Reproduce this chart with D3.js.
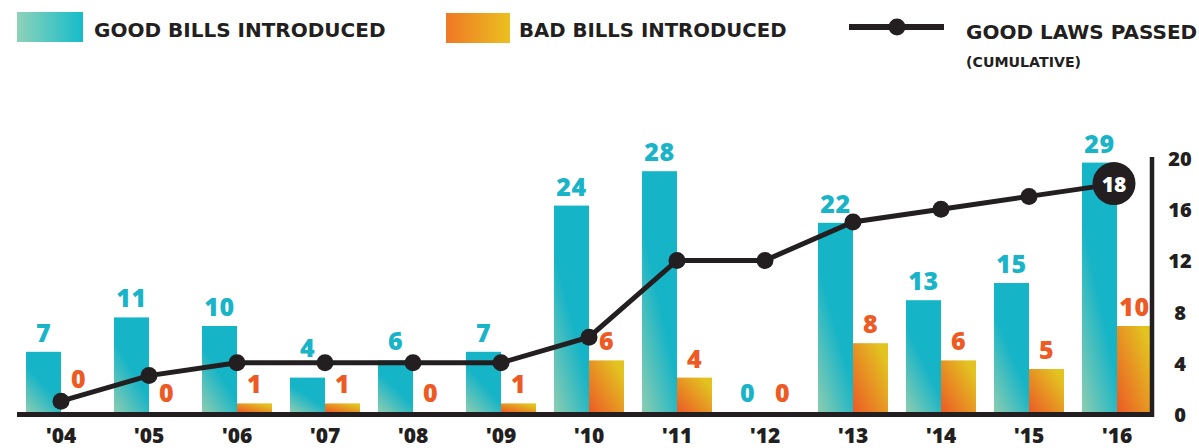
<!DOCTYPE html>
<html lang="en">
<head>
  <meta charset="UTF-8">
  <title>Bills chart</title>
  <script src="https://d3js.org/d3.v7.min.js"></script>
  <style>
    body { margin: 0; background: #fff; }
    text { font-family: "Open Sans", Roboto, sans-serif; font-weight: 800; }
    .legend text { font-family: "DejaVu Sans", sans-serif; font-weight: bold; }
  </style>
</head>
<body>
<div class="canvas"></div>
<script>
  const years = ["'04", "'05", "'06", "'07", "'08", "'09", "'10", "'11", "'12", "'13", "'14", "'15", "'16"]
  const goodBills = [7, 11, 10, 4, 6, 7, 24, 28, 0, 22, 13, 15, 29]
  const badBills = [0, 0, 1, 1, 0, 1, 6, 4, 0, 8, 6, 5, 10]
  const lawsPassed = [1, 3, 4, 4, 4, 4, 6, 12, 12, 15, 16, 17, 18]
  const axisTicks = [0, 4, 8, 12, 16, 20]

  const W = 1199, H = 448
  const base = 412

  const svg = d3.select('.canvas')
    .append('svg')
    .attr('width', W)
    .attr('height', H)

  // gradients
  const defs = svg.append('defs')
  function grad(id, c0, c1, x1, y1, x2, y2) {
    const g = defs.append('linearGradient').attr('id', id)
      .attr('x1', x1).attr('y1', y1).attr('x2', x2).attr('y2', y2)
    g.append('stop').attr('offset', '0%').attr('stop-color', c0)
    g.append('stop').attr('offset', '100%').attr('stop-color', c1)
  }
  grad('goodBar', '#8dcdb0', '#16b4c7', 0, 1, 0.35, 0.45)
  grad('badBar', '#ec5a26', '#e2c320', 0, 1, 0.9, 0.2)
  grad('goodKey', '#8ed2b8', '#15bccb', 0, 0, 1, 0)
  grad('badKey', '#f07826', '#ebc01f', 0, 0, 1, 0)

  const x0 = d3.scaleBand().domain(years).range([17, 1161]).padding(0)
  const x1 = d3.scaleBand().domain(['good', 'bad']).range([9, 79]).padding(0)
  const yBar = d3.scaleLinear().domain([0, 30]).range([base, 154])
  const yLine = d3.scaleLinear().domain([0, 20]).range([base + 2, 158])

  const rows = years.map((yr, i) => ({ yr, good: goodBills[i], bad: badBills[i], laws: lawsPassed[i] }))
  const lineX = d => x0(d.yr) + x0.bandwidth() / 2
  const pts = rows.slice(0, -1).map(d => [lineX(d), yLine(d.laws)])
  const allPts = rows.map(d => [lineX(d), yLine(d.laws)])

  // topmost ink of the line (stroke + dots) at a given x
  function inkTop(x) {
    let top = Infinity
    for (let i = 0; i < allPts.length - 1; i++) {
      const [ax, ay] = allPts[i], [bx, by] = allPts[i + 1]
      if (x >= ax && x <= bx) top = Math.min(top, ay + (by - ay) * (x - ax) / (bx - ax) - 2.5)
    }
    pts.forEach(([px, py]) => {
      const dx = Math.abs(px - x)
      if (dx < 8.5) top = Math.min(top, py - Math.sqrt(72.25 - dx * dx))
    })
    return top
  }
  function inkBottom(x) {
    let bot = -Infinity
    for (let i = 0; i < allPts.length - 1; i++) {
      const [ax, ay] = allPts[i], [bx, by] = allPts[i + 1]
      if (x >= ax && x <= bx) bot = Math.max(bot, ay + (by - ay) * (x - ax) / (bx - ax) + 2.5)
    }
    pts.forEach(([px, py]) => {
      const dx = Math.abs(px - x)
      if (dx < 8.5) bot = Math.max(bot, py + Math.sqrt(72.25 - dx * dx))
    })
    return bot
  }

  // value label baseline; lifted above the line if the line runs through it
  function labelY(v, cx) {
    let y = v === 0 ? base - 10 : yBar(v) - 10
    const hw = String(v).length * 7.5
    let hit = false, top = Infinity
    for (let x = cx - hw; x <= cx + hw; x++) {
      const t = inkTop(x), b = inkBottom(x)
      if (t < Infinity) {
        top = Math.min(top, t)
        if (t < y + 1 && b > y - 18) hit = true
      }
    }
    return hit ? top - 3 : y
  }

  // bars
  const groups = svg.selectAll('g.yr')
    .data(rows)
    .enter()
    .append('g')
    .attr('class', 'yr')
    .attr('transform', d => `translate(${x0(d.yr)},0)`)

  groups.append('rect')
    .attr('x', x1('good'))
    .attr('width', x1.bandwidth())
    .attr('y', d => yBar(d.good))
    .attr('height', d => base - yBar(d.good))
    .attr('fill', 'url(#goodBar)')

  groups.append('rect')
    .attr('x', x1('bad'))
    .attr('width', x1.bandwidth())
    .attr('y', d => yBar(d.bad))
    .attr('height', d => base - yBar(d.bad))
    .attr('fill', 'url(#badBar)')

  const gx = x1('good') + x1.bandwidth() / 2
  const bx = x1('bad') + x1.bandwidth() / 2

  groups.append('text')
    .attr('x', gx)
    .attr('y', d => labelY(d.good, x0(d.yr) + gx))
    .attr('text-anchor', 'middle')
    .attr('fill', '#1ab4c8')
    .style('font-size', '25px')
    .style('letter-spacing', '0.5px')
    .text(d => d.good)

  groups.append('text')
    .attr('x', bx)
    .attr('y', d => labelY(d.bad, x0(d.yr) + bx))
    .attr('text-anchor', 'middle')
    .attr('fill', '#ee5a24')
    .style('font-size', '25px')
    .style('letter-spacing', '0.5px')
    .text(d => d.bad)

  // year labels
  groups.append('text')
    .attr('x', x0.bandwidth() / 2)
    .attr('y', 443)
    .attr('text-anchor', 'middle')
    .attr('fill', '#231f20')
    .style('font-size', '21px')
    .text(d => d.yr)

  // baseline + right axis
  svg.append('line')
    .attr('x1', 17).attr('x2', 1154)
    .attr('y1', base + 2.5).attr('y2', base + 2.5)
    .attr('stroke', '#231f20').attr('stroke-width', 5)

  svg.append('line')
    .attr('x1', 1152).attr('x2', 1152)
    .attr('y1', base + 5).attr('y2', 157)
    .attr('stroke', '#231f20').attr('stroke-width', 4.5)

  svg.selectAll('text.tick')
    .data(axisTicks)
    .enter()
    .append('text')
    .attr('class', 'tick')
    .attr('x', 1180)
    .attr('y', d => yLine(d) + 8)
    .attr('text-anchor', 'middle')
    .attr('fill', '#231f20')
    .style('font-size', '20px')
    .text(d => d)

  // cumulative line
  svg.append('path')
    .datum(rows)
    .attr('fill', 'none')
    .attr('stroke', '#231f20')
    .attr('stroke-width', 5)
    .attr('d', d3.line().x(lineX).y(d => yLine(d.laws)))

  svg.selectAll('circle.pt')
    .data(rows.slice(0, -1))
    .enter()
    .append('circle')
    .attr('class', 'pt')
    .attr('cx', lineX)
    .attr('cy', d => yLine(d.laws))
    .attr('r', 8.5)
    .attr('fill', '#231f20')

  const last = rows[rows.length - 1]
  svg.append('circle')
    .attr('cx', lineX(last) - 3)
    .attr('cy', yLine(last.laws))
    .attr('r', 21.5)
    .attr('fill', '#231f20')
  svg.append('text')
    .attr('x', lineX(last) - 3)
    .attr('y', yLine(last.laws) + 8)
    .attr('text-anchor', 'middle')
    .attr('fill', '#fff')
    .style('font-size', '21px')
    .text(last.laws)

  // legend
  const lg = svg.append('g').attr('class', 'legend')
  lg.append('rect').attr('x', 17).attr('y', 12).attr('width', 66).attr('height', 30).attr('fill', 'url(#goodKey)')
  lg.append('text').attr('x', 94).attr('y', 37).attr('fill', '#231f20').style('font-size', '20px')
    .text('GOOD BILLS INTRODUCED')
  lg.append('rect').attr('x', 446).attr('y', 13).attr('width', 64).attr('height', 30).attr('fill', 'url(#badKey)')
  lg.append('text').attr('x', 519).attr('y', 37).attr('fill', '#231f20').style('font-size', '19.7px')
    .text('BAD BILLS INTRODUCED')
  lg.append('line').attr('x1', 849).attr('x2', 944).attr('y1', 27).attr('y2', 27)
    .attr('stroke', '#231f20').attr('stroke-width', 6)
  lg.append('circle').attr('cx', 897).attr('cy', 27).attr('r', 8.5).attr('fill', '#231f20')
  lg.append('text').attr('x', 966).attr('y', 39).attr('fill', '#231f20').style('font-size', '20px')
    .text('GOOD LAWS PASSED')
  lg.append('text').attr('x', 966).attr('y', 67).attr('fill', '#231f20').style('font-size', '14.2px')
    .text('(CUMULATIVE)')
</script>
</body>
</html>
